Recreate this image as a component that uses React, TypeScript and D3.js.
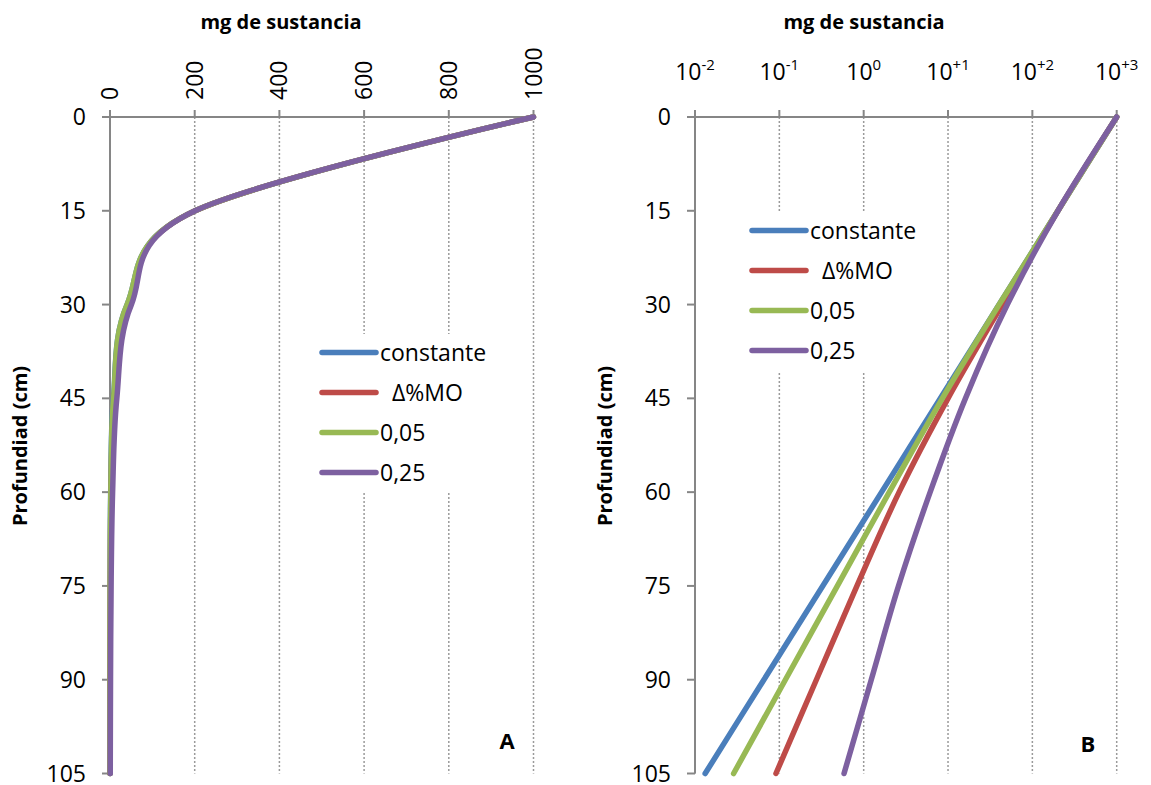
import React from "react";
import * as d3 from "d3";

const depths = [0, 15, 30, 45, 60, 75, 90, 105];
const constante = [1000, 201, 40.4, 8.09, 1.63, 0.327, 0.0656, 0.0132];
const deltaMO = [1000, 201, 43.9, 10.0, 2.63, 0.832, 0.275, 0.0912];
const k005 = [1000, 201, 40.4, 8.57, 2.01, 0.488, 0.118, 0.0287];
const k025 = [1000, 201, 50.5, 16.1, 6.14, 2.59, 1.23, 0.585];

const seriesNames = ["constante", "  \u0394%MO", "0,05", "0,25"];
const seriesColors = ["#4a7ebb", "#be4b48", "#98b954", "#7d60a0"];
const seriesData = [constante, deltaMO, k005, k025];

const depthTicks = [0, 15, 30, 45, 60, 75, 90, 105];
const linTicks = [0, 200, 400, 600, 800, 1000];
const logTicks = [0.01, 0.1, 1, 10, 100, 1000];
const logTickExp = ["-2", "-1", "0", "+1", "+2", "+3"];

const FONT = "'Open Sans', 'Liberation Sans', sans-serif";
const AXIS = "#868686";
const GRID = "#9a9a9a";

type PanelProps = {
  x: (v: number) => number;
  y: d3.ScaleLinear<number, number>;
  x0: number;
  x1: number;
  xTicks: number[];
  tickLabel: (v: number, i: number) => React.ReactNode;
  legend: { x: number; y: number; gap: number; box: [number, number, number, number] };
  letter: { x: number; y: number; t: string };
  titleX: number;
  yTitleX: number;
};

function Panel(p: PanelProps) {
  const { x, y, x0, xTicks } = p;
  const yTop = y(0);
  const yBot = y(105);
  const line = d3
    .line<number>()
    .x((v) => x(v))
    .y((_, i) => y(depths[i]))
    .curve(d3.curveCatmullRom.alpha(0));
  return (
    <g>
      {xTicks.map((t, i) => (
        <line key={"g" + i} x1={x(t)} x2={x(t)} y1={yTop} y2={yBot} stroke={GRID} strokeWidth={1.5} strokeDasharray="2,2" />
      ))}
      <rect x={p.legend.box[0]} y={p.legend.box[1]} width={p.legend.box[2]} height={p.legend.box[3]} fill="#fff" />
      <line x1={x0} x2={x0} y1={yTop} y2={yBot} stroke={AXIS} strokeWidth={2} />
      <line x1={x0} x2={p.x1} y1={yTop} y2={yTop} stroke={AXIS} strokeWidth={2} />
      {depthTicks.map((t) => (
        <g key={"yt" + t}>
          <line x1={x0 - 8} x2={x0} y1={y(t)} y2={y(t)} stroke={AXIS} strokeWidth={2} />
          <text x={x0 - 24} y={y(t)} dy="0.35em" textAnchor="end" fontSize={23} fontFamily={FONT} fill="#000">
            {t}
          </text>
        </g>
      ))}
      {xTicks.map((t, i) => (
        <g key={"xt" + i}>
          <line x1={x(t)} x2={x(t)} y1={yTop - 7} y2={yTop} stroke={AXIS} strokeWidth={2} />
          {p.tickLabel(t, i)}
        </g>
      ))}
      {seriesData.map((s, i) => (
        <path key={"s" + i} d={line(s) || ""} fill="none" stroke={seriesColors[i]} strokeWidth={5.5} strokeLinecap="round" strokeLinejoin="round" />
      ))}
      {seriesNames.map((n, i) => (
        <g key={"l" + i}>
          <line x1={p.legend.x} x2={p.legend.x + 54} y1={p.legend.y + i * p.legend.gap} y2={p.legend.y + i * p.legend.gap} stroke={seriesColors[i]} strokeWidth={5.5} strokeLinecap="round" />
          <text x={p.legend.x + 58} y={p.legend.y + i * p.legend.gap} dy="0.35em" fontSize={23} fontFamily={FONT} fill="#000" style={{ whiteSpace: "pre" }}>
            {n}
          </text>
        </g>
      ))}
      <text x={p.letter.x} y={p.letter.y} textAnchor="middle" dy="0.35em" fontSize={22} fontWeight="bold" fontFamily={FONT}>
        {p.letter.t}
      </text>
      <text x={p.titleX} y={22} textAnchor="middle" dy="0.35em" fontSize={20} fontWeight="bold" fontFamily={FONT}>
        mg de sustancia
      </text>
      <text transform={`translate(${p.yTitleX},${446}) rotate(-90)`} textAnchor="middle" dy="0.35em" fontSize={20} fontWeight="bold" fontFamily={FONT}>
        Profundiad (cm)
      </text>
    </g>
  );
}

export default function App() {
  const yA = d3.scaleLinear().domain([0, 105]).range([117, 773.5]);
  const xA = d3.scaleLinear().domain([0, 1000]).range([110, 533.5]);
  const yB = d3.scaleLinear().domain([0, 105]).range([117, 773.5]);
  const xB = d3.scaleLog().domain([0.01, 1000]).range([695, 1116.7]);

  return (
    <svg width={1151} height={785} style={{ position: "absolute", left: 0, top: 0, background: "#fff" }}>
      <rect width={1151} height={785} fill="#fff" />
      <Panel
        x={xA}
        y={yA}
        x0={110}
        x1={533.5}
        xTicks={linTicks}
        tickLabel={(t) => (
          <text transform={`translate(${xA(t)},100) rotate(-90)`} dy="0.35em" textAnchor="start" fontSize={23} fontFamily={FONT}>
            {t}
          </text>
        )}
        legend={{ x: 322, y: 352.5, gap: 40, box: [314, 334, 178, 158] }}
        letter={{ x: 507, y: 741, t: "A" }}
        titleX={281}
        yTitleX={20}
      />
      <Panel
        x={xB}
        y={yB}
        x0={695}
        x1={1116.7}
        xTicks={logTicks}
        tickLabel={(t, i) => (
          <text x={xB(t)} y={80} textAnchor="middle" fontSize={23} fontFamily={FONT}>
            10
            <tspan dy={-10} fontSize={15}>
              {logTickExp[i]}
            </tspan>
          </text>
        )}
        legend={{ x: 752, y: 230.5, gap: 40, box: [744, 212, 186, 160] }}
        letter={{ x: 1088, y: 744, t: "B" }}
        titleX={864}
        yTitleX={605}
      />
    </svg>
  );
}
